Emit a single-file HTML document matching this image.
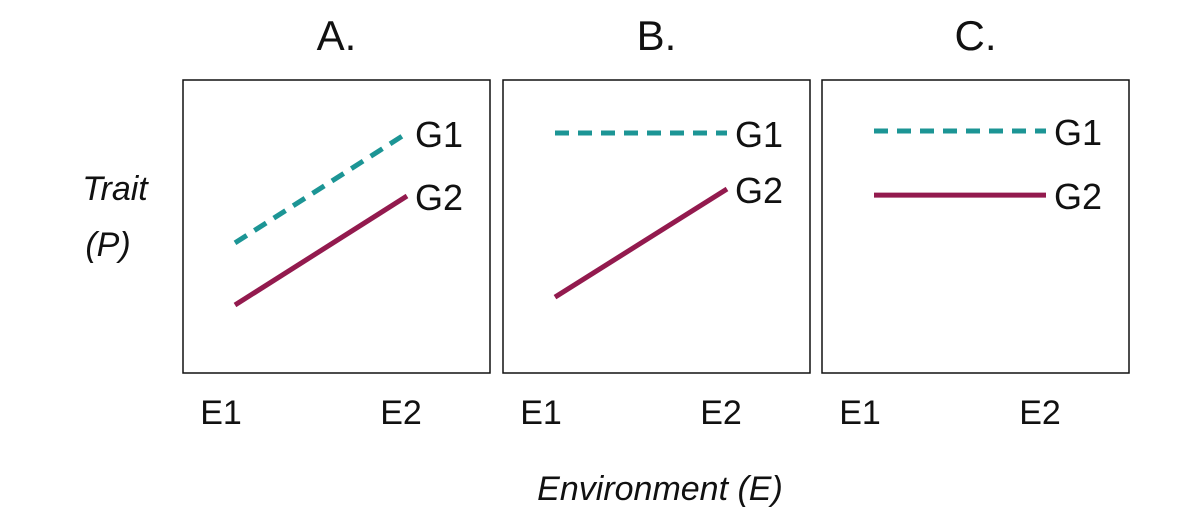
<!DOCTYPE html>
<html><head><meta charset="utf-8"><style>
body{margin:0;background:#fff;}
svg text{font-family:"Liberation Sans",sans-serif;fill:#111;}
</style></head><body>
<svg width="1202" height="512">
<g id="root"></g>
</svg>
<script>
const panels=["A.","B.","C."];
const envLabels=["E1","E2"];
const g1Values=[[4.44,8.19],[8.19,8.19],[8.26,8.26]];
const g2Values=[[2.32,6.04],[2.59,6.28],[6.07,6.07]];
const seriesNames=["G1","G2"];
const NS="http://www.w3.org/2000/svg";
const root=document.getElementById('root');
function mk(t,a,txt){const e=document.createElementNS(NS,t);for(const k in a)e.setAttribute(k,a[k]);if(txt!=null)e.textContent=txt;root.appendChild(e);return e;}
const lefts=[183,503,822],W=307,top0=80,bot=373;
function yS(v){return bot-v*(bot-top0)/10;}
function xS(p,i){return lefts[p]+52+i*172;}
panels.forEach((t,p)=>{
  let e=mk('rect',{x:lefts[p],y:top0,width:W,height:bot-top0,fill:'none',stroke:'#111','stroke-width':1.5});
  
  e=mk('text',{x:lefts[p]+W/2,y:50,'font-size':42,'text-anchor':'middle'},t);
  
  envLabels.forEach((l,i)=>{e=mk('text',{x:xS(p,i)+(i?-6:-14),y:424,'font-size':34,'text-anchor':'middle'},l);
    });
  [g1Values[p],g2Values[p]].forEach((vals,s)=>{
    e=mk('line',{x1:xS(p,0),y1:yS(vals[0]),x2:xS(p,1),y2:yS(vals[1]),stroke:s?'#931a4e':'#1c9595','stroke-width':5,'stroke-dasharray':s?'none':'14 9'});
    
    e=mk('text',{x:xS(p,1)+8,y:yS(vals[1])+14,'font-size':36},seriesNames[s]);
    
  });
});
let e=mk('text',{x:115,y:200,'font-size':34,'font-style':'italic','text-anchor':'middle'},'Trait');

e=mk('text',{x:108,y:256,'font-size':34,'font-style':'italic','text-anchor':'middle'},'(P)');

e=mk('text',{x:660,y:500,'font-size':34,'font-style':'italic','text-anchor':'middle'},'Environment (E)');

</script>
</body></html>
